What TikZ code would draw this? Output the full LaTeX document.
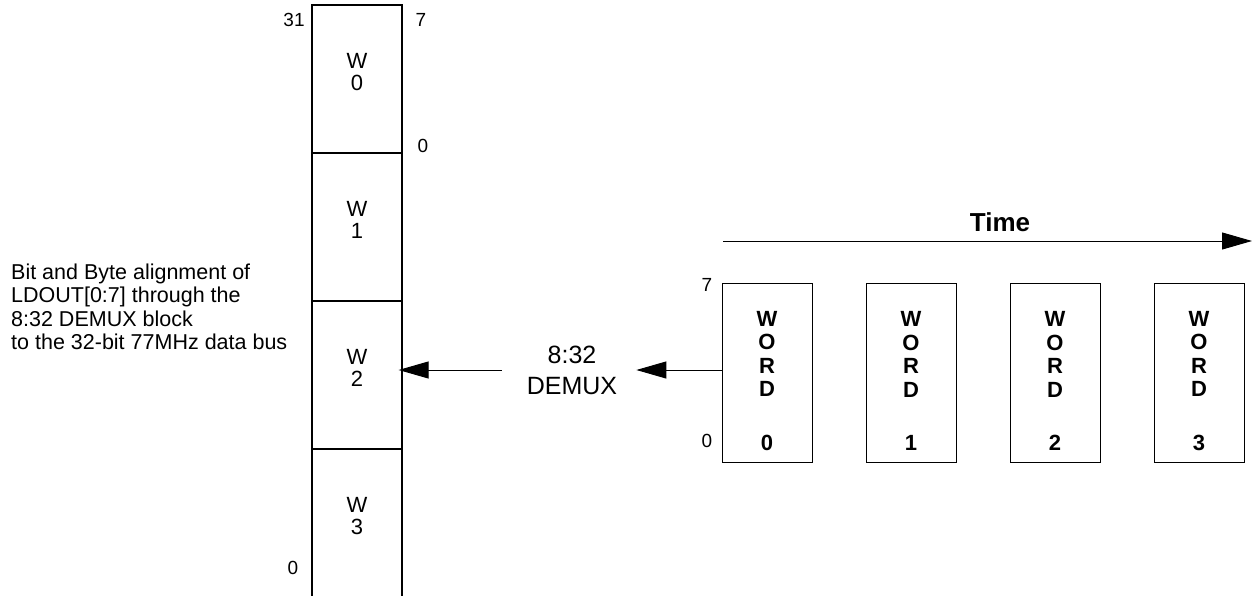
\documentclass[tikz,border=0pt]{standalone}
\usepackage{fontspec}
\setmainfont{Liberation Sans}
\usepackage{tikz}
\usetikzlibrary{arrows.meta,positioning,calc}

\begin{document}
\begin{tikzpicture}
[x=1pt,y=-1pt,
edge/.style={-{Triangle[length=30pt,width=17pt]}, line width=1pt},
cell/.style={draw=black,line width=1.2pt,minimum width=90pt,minimum height=148pt,inner sep=0pt},
wordbox/.style={draw=black,line width=1pt,minimum width=90pt,minimum height=179pt,inner sep=0pt},
celltxt/.style={align=center,font=\fontsize{22}{22}\selectfont,yshift=7pt},
wordtxt/.style={align=center,font=\fontsize{22}{23.5}\selectfont\bfseries,yshift=-8.5pt},
bitnum/.style={font=\fontsize{19}{19}\selectfont,inner sep=0pt}]
\useasboundingbox (0,0) rectangle (1252,596);
%%
\node (w0) [cell] at (357,79) {};
\node (w1) [cell] at (357,227) {};
\node (w2) [cell] at (357,375) {};
\node (w3) [cell] at (357,523) {};
\node (w0txt) [celltxt] at (w0) {W\\0};
\node (w1txt) [celltxt] at (w1) {W\\1};
\node (w2txt) [celltxt] at (w2) {W\\2};
\node (w3txt) [celltxt] at (w3) {W\\3};
%%
\node (msb) [bitnum] at (294,20) {31};
\node (lsb) [bitnum] at (293,568) {0};
\node (hi) [bitnum] at (421,20) {7};
\node (lo) [bitnum] at (423,146) {0};
%%
\node (note) [anchor=west,align=left,inner sep=0pt,font=\fontsize{21.5}{23.5}\selectfont] at (11,307)
{Bit and Byte alignment of\\LDOUT[0:7] through the\\8:32 DEMUX block\\to the 32-bit 77MHz data bus};
%%
\node (demux) [align=center,inner xsep=19pt,font=\fontsize{25}{31}\selectfont] at (572,370) {8:32\\DEMUX};
%%
\node (word0) [wordbox] at (767,372.5) {};
\node (word1) [wordbox] at (911,372.5) {};
\node (word2) [wordbox] at (1055,372.5) {};
\node (word3) [wordbox] at (1199,372.5) {};
\node (word0txt) [wordtxt] at (word0) {W\\O\\R\\D\\[30pt]0};
\node (word1txt) [wordtxt] at (word1) {W\\O\\R\\D\\[30pt]1};
\node (word2txt) [wordtxt] at (word2) {W\\O\\R\\D\\[30pt]2};
\node (word3txt) [wordtxt] at (word3) {W\\O\\R\\D\\[30pt]3};
\node (top) [bitnum] at (707,285) {7};
\node (bot) [bitnum] at (707,441) {0};
%%
\coordinate (tstart) at (723,241);
\coordinate (tend) at (1252,241);
\draw[edge] (tstart) -- (tend);
\node (time) [font=\fontsize{26}{26}\selectfont\bfseries] at (1000,222) {Time};
%%
\draw[edge] (word0.west |- demux.east) -- (demux.east);
\draw[edge,shorten <=6pt,shorten >=-4pt] (demux.west) -- (w2.east |- demux.west);
%%
\end{tikzpicture}
\end{document}
